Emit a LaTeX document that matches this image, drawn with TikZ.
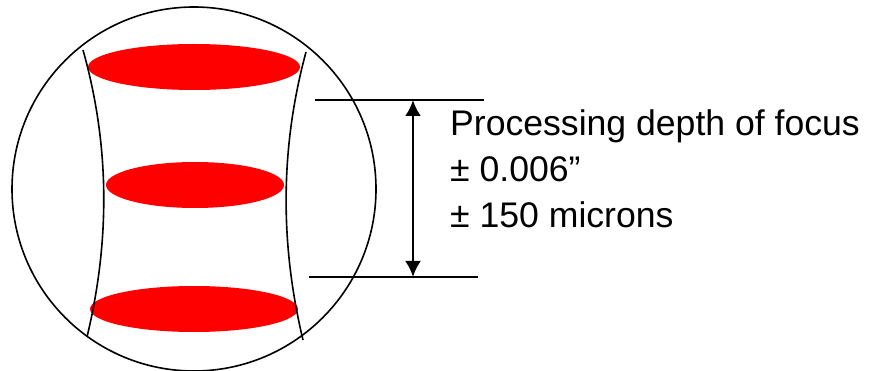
\documentclass[tikz,border=0pt]{standalone}
\usepackage{fontspec}
\setmainfont{Liberation Sans}
\usetikzlibrary{shapes.geometric,arrows.meta}
\tikzset{
  spot/.style={ellipse, fill=red, draw=none, inner sep=0pt},
  lbl/.style={anchor=base west, inner sep=0pt, font=\fontsize{35.6}{40}\selectfont},
  thin line/.style={draw=black, line width=1.6pt},
}
\begin{document}
\begin{tikzpicture}[x=1pt,y=-1pt]
\useasboundingbox (0,0) rectangle (875,371);
\fill[white] (0,0) rectangle (875,371);
% outer circle
\node[circle, draw=black, line width=1.6pt, minimum size=364pt, inner sep=0pt] (lens) at (194,189) {};
% focus spots
\node[spot, minimum width=212pt, minimum height=46pt] (top) at (194,67) {};
\node[spot, minimum width=178pt, minimum height=46pt] (mid) at (195,185) {};
\node[spot, minimum width=208pt, minimum height=46pt] (bot) at (194,309) {};
% beam boundaries
\coordinate (l1) at (83,50); \coordinate (l2) at (87,337);
\coordinate (r1) at (306,52); \coordinate (r2) at (303,340);
\draw[thin line] (l1) .. controls (110,146) and (110,241) .. (l2);
\draw[thin line] (r1) .. controls (280,148) and (280,244) .. (r2);
% dimension lines
\coordinate (ta) at (315,100); \coordinate (tb) at (484,100);
\coordinate (ba) at (309,277); \coordinate (bb) at (478,277);
\draw[thin line] (ta) -- (tb);
\draw[thin line] (ba) -- (bb);
\coordinate (aup) at (413,100); \coordinate (adn) at (413,277);
\draw[line width=2.6pt, {Latex[length=16pt,width=16pt]}-{Latex[length=16pt,width=16pt]}] (aup) -- (adn);
% labels
\node[lbl] (t1) at (450,136) {Processing depth of focus};
\node[lbl] (t2) at (450,182) {± 0.006”};
\node[lbl] (t3) at (450,228) {± 150 microns};
\end{tikzpicture}
\end{document}
